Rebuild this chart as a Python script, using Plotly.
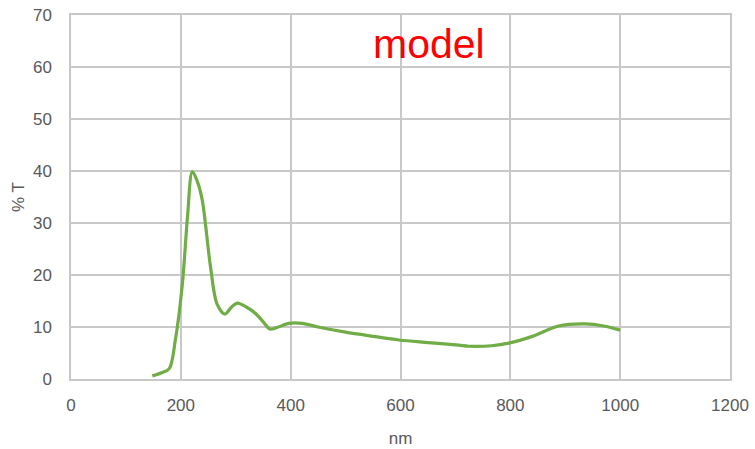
import plotly.graph_objects as go

wavelength_nm = [148, 165, 179, 190, 203, 212, 221, 230, 239, 254, 266, 280, 292, 303, 320, 336, 350, 362, 375, 397, 421, 450, 500, 550, 597, 650, 706, 724, 766, 797, 840, 888, 936, 970, 1000]
transmission = [0.6, 1.2, 2.0, 7.5, 18.5, 31.0, 39.9, 38.0, 34.4, 21.6, 14.4, 12.5, 13.8, 14.6, 13.8, 12.6, 11.0, 9.6, 9.9, 10.7, 10.7, 10.0, 9.0, 8.2, 7.5, 7.0, 6.5, 6.3, 6.4, 6.9, 8.2, 10.2, 10.6, 10.2, 9.4]

x_ticks = [0, 200, 400, 600, 800, 1000, 1200]
y_ticks = [0, 10, 20, 30, 40, 50, 60, 70]

fig = go.Figure()
fig.add_trace(go.Scatter(
    x=wavelength_nm, y=transmission, mode="lines",
    line=dict(color="#70AD47", width=3.2, shape="spline", smoothing=0.9),
    showlegend=False,
))

tick_font = dict(family="Liberation Sans, Arial, sans-serif", size=17, color="#595959")
grid_color = "#C8C8C8"

L, R, T, B = 71, 25, 15, 70
plot_w = 755 - L - R
plot_h = 449 - T - B

fig.update_layout(
    width=755, height=449,
    margin=dict(l=L, r=R, t=T, b=B),
    paper_bgcolor="white", plot_bgcolor="white",
    xaxis=dict(
        range=[0, 1200], tickvals=x_ticks, ticks="", showgrid=True, automargin=False,
        gridcolor=grid_color, gridwidth=1.5, showline=True, linecolor=grid_color,
        linewidth=1.5, mirror=True, zeroline=False, tickfont=tick_font,
        ticklabelstandoff=10,
        title=dict(text="nm", font=tick_font, standoff=18),
    ),
    yaxis=dict(
        range=[0, 70], tickvals=y_ticks, ticks="", showgrid=True, automargin=False,
        gridcolor=grid_color, gridwidth=1.5, showline=True, linecolor=grid_color,
        linewidth=1.5, mirror=True, zeroline=False, tickfont=tick_font,
        ticklabelstandoff=14,
        title=dict(text="% T", font=tick_font, standoff=4),
    ),
    annotations=[dict(
        text="model", x=(429 - L) / plot_w, y=1 - (44 - T) / plot_h,
        xref="paper", yref="paper", xanchor="center", yanchor="middle",
        showarrow=False,
        font=dict(family="Liberation Sans, Arial, sans-serif", size=41, color="#FF0000"),
    )],
)

fig.write_html("out.html")
